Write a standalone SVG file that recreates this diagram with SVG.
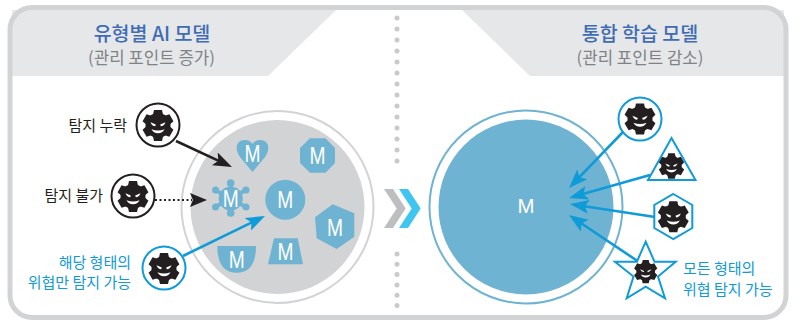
<svg xmlns="http://www.w3.org/2000/svg" width="797" height="320" viewBox="0 0 797 320">
<style>
text{font-family:"Noto Sans CJK KR","Noto Sans",sans-serif}
.title{font-size:19.5px;font-weight:500;fill:#3f6cb4;text-anchor:middle}
.sub{font-size:16.8px;fill:#808285;text-anchor:middle}
.lb{font-size:15px;fill:#231f20;text-anchor:end}
.lc{font-size:15px;fill:#0f9ad8;text-anchor:end}
.ls{font-size:15px;fill:#0f9ad8}
.m{font-family:"Liberation Sans",Arial,sans-serif;font-size:23px;fill:#fff;text-anchor:middle}
.sh{fill:#6fb3d2}
.ol{fill:#fff;stroke:#0f9ad8;stroke-width:2;stroke-linejoin:miter}
.blue{stroke:#0f9ad8;stroke-width:2.6;fill:none;marker-end:url(#hb)}
.blk{stroke:#231f20;stroke-width:2.6;fill:none;marker-end:url(#hk)}
.dots{fill:none;stroke:#c9cacc;stroke-width:5;stroke-linecap:round}
</style>
<defs>
<marker id="hb" markerUnits="userSpaceOnUse" markerWidth="20" markerHeight="16" viewBox="0 0 20 16" refX="11" refY="8" orient="auto"><path d="M0 1L19 8L0 15L4 8Z" fill="#0f9ad8"/></marker>
<marker id="hk" markerUnits="userSpaceOnUse" markerWidth="20" markerHeight="16" viewBox="0 0 20 16" refX="11" refY="8" orient="auto"><path d="M0 1L19 8L0 15L4 8Z" fill="#231f20"/></marker>
<g id="gear">
<circle r="12.500" fill="#231f20"/>
<g fill="#231f20">
<path id="tooth" d="M-4 -15.500H4L5.500 -9H-5.500Z"/>
<use href="#tooth" transform="rotate(60)"/>
<use href="#tooth" transform="rotate(120)"/>
<use href="#tooth" transform="rotate(180)"/>
<use href="#tooth" transform="rotate(240)"/>
<use href="#tooth" transform="rotate(300)"/>
</g>
<path d="M-7.500 -3.200L-2.200 -1L-2.800 .8Q-6 .6 -7.500 -3.200ZM7.500 -3.200L2.200 -1L2.800 .8Q6 .6 7.500 -3.200ZM-6.500 3.800Q0 6.200 6.500 3.800Q4.500 7.800 0 7.800Q-4.500 7.800 -6.500 3.800Z" fill="#fff"/>
</g>
</defs>

<g id="frame">
<path d="M12 10H336L268 76H12ZM462 10H784V76H530Z" fill="#e6e7e8"/>
<rect x="10" y="7.500" width="776" height="310" rx="22" fill="none" stroke="#d1d3d4" stroke-width="5"/>
<path class="dots" stroke-dasharray="0 11" d="M397 18V163"/>
<path class="dots" stroke-dasharray="0 10.3" d="M397 254V306"/>
</g>
<g id="head-left">
<text class="title" x="152" y="41">유형별 AI 모델</text>
<text class="sub" x="151.500" y="64">(관리 포인트 증가)</text>
</g>
<g id="head-right">
<text class="title" x="640" y="41">통합 학습 모델</text>
<text class="sub" x="640" y="64">(관리 포인트 감소)</text>
</g>

<g id="pool">
<circle cx="277.500" cy="207" r="96" fill="#fff" stroke="#d1d3d4" stroke-width="2"/>
<circle cx="277.500" cy="207" r="87" fill="#d1d3d4"/>
</g>
<g id="m-heart"><path class="sh" d="M252.500 172L240 157Q236.700 152 236.700 148Q237 140 245 140Q250 140 252.500 144Q255 140 260 140Q268 140 268.300 148Q268.300 152 265 157Z"/><text class="m" x="252.500" y="161.500" textLength="16" lengthAdjust="spacingAndGlyphs">M</text></g>
<g id="m-octagon"><path class="sh" d="M310 138.300H325.500L335 148V163L325.500 172.700H310L300 163V148Z"/><text class="m" x="317.500" y="164" textLength="16" lengthAdjust="spacingAndGlyphs">M</text></g>
<g id="m-virus">
<path d="M230.700 183V213M215 190L246 207M246 190L215 207" stroke="#6fb3d2" stroke-width="4" fill="none"/>
<g class="sh"><circle cx="230.700" cy="183" r="3.800"/><circle cx="230.700" cy="213" r="3.800"/><circle cx="215.500" cy="190" r="3.500"/><circle cx="246" cy="190" r="3.500"/><circle cx="215.500" cy="207" r="3.500"/><circle cx="246" cy="207" r="3.500"/><circle cx="230.700" cy="198.500" r="12"/></g>
<text class="m" x="230.700" y="207" textLength="16" lengthAdjust="spacingAndGlyphs">M</text></g>
<g id="m-circle"><circle class="sh" cx="285.300" cy="199.700" r="20"/><text class="m" x="285.300" y="208" textLength="16" lengthAdjust="spacingAndGlyphs">M</text></g>
<g id="m-hexagon"><path class="sh" d="M332.700 204.300L354.300 213.300V236.700L336.700 249L316.700 238.300L315 217.300Z"/><text class="m" x="335" y="235.500" textLength="16" lengthAdjust="spacingAndGlyphs">M</text></g>
<g id="m-trapezoid"><path class="sh" d="M274 238.300H297.700L303 264.300H268Z"/><text class="m" x="285.500" y="259.500" textLength="16" lengthAdjust="spacingAndGlyphs">M</text></g>
<g id="m-shield"><path class="sh" d="M217.300 246H256Q256 272.700 236.700 272.700Q217.300 272.700 217.300 246Z"/><text class="m" x="236.700" y="267.500" textLength="16" lengthAdjust="spacingAndGlyphs">M</text></g>

<g id="chevrons">
<path d="M384 189H393L405.700 208.500L393 228H384L396.700 208.500Z" fill="#bcbec0"/>
<path d="M399 189H408L420.700 208.500L408 228H399L411.700 208.500Z" fill="#3fc5f0"/>
</g>

<g id="model">
<circle cx="526" cy="207" r="96.500" fill="#fff" stroke="#6fb3d2" stroke-width="2"/>
<circle cx="526" cy="207" r="87.500" fill="#6fb3d2"/>
<text class="m" x="526" y="213" style="font-size:21px" textLength="17" lengthAdjust="spacingAndGlyphs">M</text>
</g>

<g id="connectors">
<path class="blk" d="M176 141L224.700 163.600"/>
<path d="M155 200H192" stroke="#231f20" stroke-width="2.200" stroke-dasharray="2 2.500" fill="none"/>
<path d="M190 193L207 200L190 207L193 200Z" fill="#231f20"/>
<path class="blue" d="M183 256L257.800 219.500"/>
<path class="blue" d="M623 132L574.600 182.200"/>
<path class="blue" d="M650 175L576.700 195.800"/>
<path class="blue" d="M655 217L577.900 205.200"/>
<path class="blue" d="M639 262L575.600 219.500"/>
</g>

<g id="threat-missed"><text class="lb" x="127" y="131">탐지 누락</text><circle cx="158" cy="125" r="21.500" fill="#fff" stroke="#231f20" stroke-width="2"/><use href="#gear" transform="translate(158 125.500)"/></g>
<g id="threat-unknown"><text class="lb" x="103" y="201">탐지 불가</text><circle cx="133" cy="196" r="21.500" fill="#fff" stroke="#231f20" stroke-width="2"/><use href="#gear" transform="translate(133 196.500)"/></g>
<g id="threat-specific"><text class="lc" x="131" y="268">해당 형태의</text><text class="lc" x="131" y="288">위협만 탐지 가능</text><circle cx="164" cy="268" r="21.500" fill="#fff" stroke="#0f9ad8" stroke-width="2"/><use href="#gear" transform="translate(164 268.500)"/></g>

<g id="threat-circle"><circle cx="640" cy="119" r="21.500" fill="#fff" stroke="#0f9ad8" stroke-width="2"/><use href="#gear" transform="translate(640 119)"/></g>
<g id="threat-triangle"><path class="ol" d="M671.500 138L695.500 180H648Z"/><use href="#gear" transform="translate(671.500 166) scale(.82)"/></g>
<g id="threat-hexagon"><path class="ol" d="M673.300 194L692.300 205V228L673.300 239L654.300 228V205Z"/><use href="#gear" transform="translate(673.300 216.700)"/></g>
<g id="threat-star"><path class="ol" d="M645.700 241.700L654.500 261.700H675.700L658 276.500L665 298.300L645.700 286.700L626.700 298.300L633.500 276.500L615 261.700H636.900Z"/><use href="#gear" transform="translate(645.700 271.700) scale(.75)"/><text class="ls" x="683" y="274">모든 형태의</text><text class="ls" x="683" y="295">위협 탐지 가능</text></g>
</svg>
